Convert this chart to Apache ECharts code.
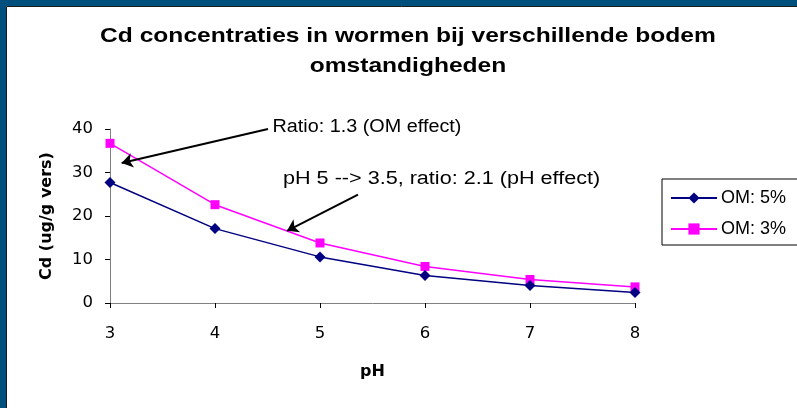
<!DOCTYPE html>
<html>
<head>
<meta charset="utf-8">
<script src="https://cdn.jsdelivr.net/npm/echarts@6/dist/echarts.min.js"></script>
<style>
html,body{margin:0;padding:0;background:#fff;}
#chart{width:797px;height:408px;}
</style>
</head>
<body>
<div id="chart"></div>
<script>
const titleLines = ['Cd concentraties in wormen bij verschillende bodem', 'omstandigheden'];
const phValues = [3, 4, 5, 6, 7, 8];
const om5 = [27.7, 17.1, 10.6, 6.3, 4.05, 2.4];
const om3 = [36.7, 22.6, 13.8, 8.4, 5.4, 3.7];
const seriesNames = ['OM: 5%', 'OM: 3%'];
const xAxisName = 'pH';
const yAxisName = 'Cd (ug/g vers)';
const annotation1 = 'Ratio: 1.3 (OM effect)';
const annotation2 = 'pH 5 --> 3.5, ratio: 2.1 (pH effect)';
const arrow1 = [[4.505, 40], [3.111, 32.2]];
const arrow2 = [[5.362, 24.9], [4.686, 16.6]];

const FONT = 'Liberation Sans, Arial, sans-serif';
const WIDE = 'DejaVu Sans, sans-serif';
const chart = echarts.init(document.getElementById('chart'), null, {renderer: 'canvas'});

function pairs(xs, ys) { return xs.map((x, i) => [x, ys[i]]); }

chart.setOption({
  animation: false,
  backgroundColor: '#ffffff',
  grid: {left: 110, right: 162, top: 129, bottom: 105},
  legend: {
    orient: 'vertical',
    left: 662, top: 179,
    padding: [10, 12, 7, 8],
    borderColor: '#000', borderWidth: 1,
    itemWidth: 46, itemHeight: 14, itemGap: 13,
    textStyle: {fontFamily: FONT, fontSize: 18, color: '#000', padding: [0, 0, 0, -1]},
    data: seriesNames
  },
  xAxis: {
    type: 'value', min: 3, max: 8, interval: 1,
    name: xAxisName, nameLocation: 'middle', nameGap: 61,
    nameTextStyle: {fontFamily: WIDE, fontSize: 16, fontWeight: 'bold', color: '#000'},
    axisLine: {lineStyle: {color: '#808080', width: 1}},
    axisTick: {show: true, length: 5, lineStyle: {color: '#000'}},
    axisLabel: {fontFamily: WIDE, fontSize: 16.5, color: '#000', margin: 22},
    splitLine: {show: false}
  },
  yAxis: {
    type: 'value', min: 0, max: 40, interval: 10,
    name: yAxisName, nameLocation: 'middle', nameGap: 55, nameRotate: 90,
    nameTextStyle: {fontFamily: WIDE, fontSize: 16, fontWeight: 'bold', color: '#000'},
    axisLine: {show: true, lineStyle: {color: '#808080', width: 1}},
    axisTick: {show: true, length: 5, lineStyle: {color: '#000'}},
    axisLabel: {fontFamily: WIDE, fontSize: 16.5, color: '#000', margin: 17},
    splitLine: {show: false}
  },
  series: [
    {
      name: seriesNames[0], type: 'line',
      data: pairs(phValues, om5),
      symbol: 'diamond', symbolSize: 11,
      itemStyle: {color: '#000080'},
      lineStyle: {color: '#000080', width: 1.5},
      z: 3,
      markLine: {
        silent: true,
        symbol: ['none', 'arrow'], symbolSize: 11,
        label: {show: false},
        emphasis: {disabled: true},
        lineStyle: {color: '#000', width: 2, type: 'solid'},
        itemStyle: {color: '#000'},
        data: [
          [{coord: arrow1[0]}, {coord: arrow1[1]}],
          [{coord: arrow2[0]}, {coord: arrow2[1]}]
        ]
      }
    },
    {
      name: seriesNames[1], type: 'line',
      data: pairs(phValues, om3),
      symbol: 'rect', symbolSize: 9,
      itemStyle: {color: '#ff00ff'},
      lineStyle: {color: '#ff00ff', width: 1.5},
      z: 2
    }
  ],
  graphic: [
    {type: 'rect', shape: {x: 0, y: 0, width: 797, height: 6}, style: {fill: '#004f7c'}, z: 100},
    {type: 'rect', shape: {x: 0, y: 0, width: 6, height: 408}, style: {fill: '#004f7c'}, z: 100},
    {type: 'line', shape: {x1: 6.5, y1: 6.5, x2: 797, y2: 6.5}, style: {stroke: '#1a1a1a', lineWidth: 1}, z: 100},
    {type: 'line', shape: {x1: 6.5, y1: 6.5, x2: 6.5, y2: 408}, style: {stroke: '#1a1a1a', lineWidth: 1}, z: 100},
    {type: 'text', x: 408, y: 36, scaleX: 1.17, z: 100,
     style: {text: titleLines[0], font: 'bold 21px ' + FONT, fill: '#000', align: 'center', verticalAlign: 'middle'}},
    {type: 'text', x: 408, y: 66, scaleX: 1.17, z: 100,
     style: {text: titleLines[1], font: 'bold 21px ' + FONT, fill: '#000', align: 'center', verticalAlign: 'middle'}},
    {type: 'text', x: 272.5, y: 127.5, scaleX: 1.1, z: 100,
     style: {text: annotation1, font: '18px ' + FONT, fill: '#000', align: 'left', verticalAlign: 'middle'}},
    {type: 'text', x: 283, y: 179.5, scaleX: 1.2, z: 100,
     style: {text: annotation2, font: '18px ' + FONT, fill: '#000', align: 'left', verticalAlign: 'middle'}}
  ]
});
</script>
</body>
</html>
